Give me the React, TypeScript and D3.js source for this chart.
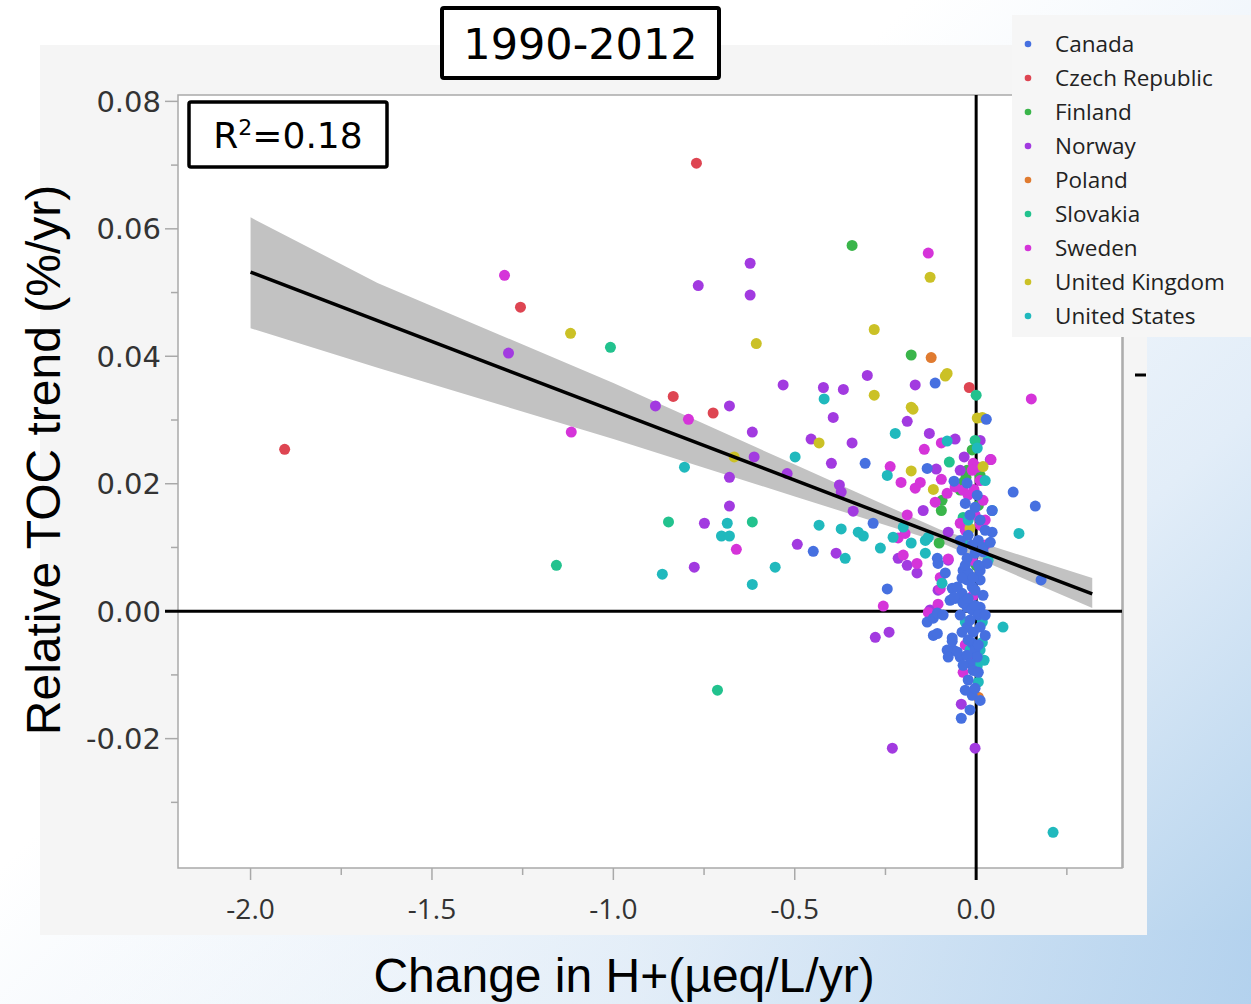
import React from 'react';
import * as d3 from 'd3';

const W = 1251;
const H = 1004;

// legend order
const countries = ['Canada', 'Czech Republic', 'Finland', 'Norway', 'Poland', 'Slovakia', 'Sweden', 'United Kingdom', 'United States'];
const countryColors = ['#4670e0', '#de4552', '#3ab54a', '#a23ae0', '#e07b30', '#22c28e', '#d534d9', '#cbc126', '#20b9bd'];

// [change in H+, relative TOC trend]
const canada = [
  [-0.113, 0.0358], [0.028, 0.0301], [-0.306, 0.0232], [-0.284, 0.0138], [-0.135, 0.0224], [-0.061, 0.0204],
  [-0.025, 0.0201], [0.003, 0.0182], [0.102, 0.0187], [0.163, 0.0165], [0.179, 0.0049], [-0.03, 0.0169],
  [-0.003, 0.0163], [0.044, 0.0158], [0.044, 0.0124], [-0.039, 0.0096], [-0.025, 0.0083], [-0.003, 0.0091],
  [0.019, 0.01], [0.039, 0.0108], [-0.107, 0.0083], [-0.105, 0.0075], [-0.085, 0.006], [-0.036, 0.0064],
  [-0.025, 0.0049], [-0.011, 0.0038], [0.011, 0.0049], [-0.066, 0.0036], [-0.058, 0.002], [-0.072, 0.0017],
  [-0.039, 0.0028], [-0.025, 0.0006], [-0.011, 0.0002], [0.011, 0.0006], [-0.135, -0.0017], [-0.118, -0.0011],
  [-0.107, -0.0003], [-0.025, -0.0025], [-0.008, -0.0033], [0.011, -0.0025], [-0.118, -0.0038], [-0.107, -0.0035],
  [-0.066, -0.0042], [-0.063, -0.0061], [-0.08, -0.0061], [-0.011, -0.005], [-0.003, -0.0061], [0.003, -0.0072],
  [-0.044, -0.0072], [-0.025, -0.0069], [-0.017, -0.0082], [-0.008, -0.0093], [-0.011, -0.0132], [-0.041, -0.0168],
  [-0.052, -0.0064], [-0.077, -0.0072], [-0.449, 0.0094], [-0.245, 0.0035], [-0.003, 0.0009], [-0.036, 0.0013],
  [-0.066, -0.0047], [-0.022, 0.006], [0.03, 0.0075], [0.019, 0.0093], [-0.052, 0.0038], [-0.061, 0.0022],
  [-0.091, -0.0006], [-0.008, 0.0053], [0.011, 0.0064],
  [-0.017, 0.0151], [0.011, 0.0143], [-0.022, 0.0119], [0.006, 0.0111], [0.025, 0.0127], [-0.044, 0.0111],
  [-0.011, 0.0104], [-0.03, 0.0072], [0.006, 0.0072], [-0.039, 0.0052], [-0.003, 0.0033], [0.019, 0.0025],
  [-0.022, 0.002], [0.006, -0.0006], [-0.044, -0.0006], [0.025, -0.0006], [-0.017, -0.0014], [-0.039, -0.0033],
  [0.025, -0.0038], [-0.022, -0.0045], [0.006, -0.0053], [-0.036, -0.0085], [0.006, -0.0096], [-0.022, -0.0108],
  [-0.003, -0.0121], [-0.03, -0.0124], [0.011, -0.014], [-0.017, -0.0155],
];
const czech = [
  [-1.906, 0.0254], [-0.771, 0.0703], [-1.256, 0.0477], [-0.835, 0.0337], [-0.725, 0.0311], [-0.019, 0.0351],
];
const finland = [
  [-0.342, 0.0574], [-0.179, 0.0402], [-0.028, 0.021], [-0.036, 0.0202], [-0.094, 0.0174], [-0.096, 0.0158],
  [-0.102, 0.0107], [0.0, 0.0072], [0.011, 0.0213], [-0.025, 0.0221], [-0.011, 0.0253], [0.006, 0.0166],
  [-0.044, 0.019],
];
const norway = [
  [-1.289, 0.0405], [-0.884, 0.0322], [-0.68, 0.0322], [-0.766, 0.0511], [-0.623, 0.0546], [-0.623, 0.0496],
  [-0.532, 0.0355], [-0.421, 0.0351], [-0.366, 0.0348], [-0.3, 0.037], [-0.394, 0.0304], [-0.617, 0.0281],
  [-0.455, 0.027], [-0.342, 0.0264], [-0.612, 0.0242], [-0.399, 0.0232], [-0.521, 0.0216], [-0.68, 0.021],
  [-0.377, 0.0198], [-0.372, 0.0187], [-0.339, 0.0157], [-0.68, 0.0165], [-0.749, 0.0138], [-0.493, 0.0105],
  [-0.386, 0.0091], [-0.777, 0.0069], [-0.168, 0.0355], [-0.19, 0.0298], [-0.129, 0.0279], [-0.058, 0.027],
  [-0.033, 0.0242], [-0.11, 0.0223], [-0.146, 0.0158], [-0.077, 0.0124], [-0.077, 0.008], [-0.215, 0.0083],
  [-0.19, 0.0072], [-0.163, 0.006], [-0.105, 0.0033], [-0.127, 0.0002], [-0.278, -0.0041], [-0.24, -0.0033],
  [-0.008, -0.0077], [-0.041, -0.0146], [-0.231, -0.0215], [-0.003, -0.0215], [0.039, 0.0238], [0.011, 0.0268],
  [-0.044, 0.0221],
];
const poland = [[-0.124, 0.0398], [0.006, -0.0135]];
const slovakia = [
  [-1.008, 0.0414], [-1.157, 0.0072], [-0.848, 0.014], [-0.617, 0.014], [-0.713, -0.0124], [0.0, 0.0339],
  [-0.003, 0.0268], [-0.074, 0.0234], [-0.036, 0.0147],
];
const sweden = [
  [-1.3, 0.0527], [-1.116, 0.0281], [-0.793, 0.0301], [-0.132, 0.0562], [0.152, 0.0333], [-0.661, 0.0097],
  [-0.143, 0.0254], [-0.096, 0.0264], [-0.237, 0.0227], [-0.207, 0.0202], [-0.168, 0.0193], [-0.154, 0.0202],
  [-0.096, 0.0207], [-0.058, 0.0195], [-0.036, 0.019], [-0.006, 0.0191], [-0.008, 0.0232], [0.003, 0.0226],
  [0.041, 0.0238], [-0.113, 0.0171], [-0.08, 0.0185], [-0.19, 0.0151], [-0.215, 0.0115], [-0.196, 0.0122],
  [-0.044, 0.0138], [0.011, 0.0135], [0.025, 0.0143], [-0.077, 0.0082], [-0.201, 0.0088], [-0.163, 0.0075],
  [-0.099, 0.0053], [-0.099, 0.0035], [-0.008, 0.0025], [-0.256, 0.0008], [-0.132, -0.0002], [-0.105, 0.0011],
  [-0.03, -0.0053], [-0.036, -0.0096], [-0.011, 0.0221], [0.011, 0.0205], [-0.022, 0.0182], [0.019, 0.0174],
  [-0.003, 0.0151], [-0.03, 0.0127], [0.025, 0.0104], [-0.011, 0.008],
];
const unitedKingdom = [
  [-1.118, 0.0436], [-0.606, 0.042], [-0.281, 0.0442], [-0.127, 0.0524], [-0.281, 0.0339], [-0.433, 0.0264],
  [-0.667, 0.0242], [-0.085, 0.0369], [-0.08, 0.0373], [-0.179, 0.032], [-0.174, 0.0317], [0.003, 0.0303],
  [0.017, 0.0304], [-0.179, 0.022], [-0.118, 0.0191], [0.019, 0.0227], [-0.017, 0.013],
];
const unitedStates = [
  [-0.419, 0.0333], [-0.499, 0.0242], [-0.804, 0.0226], [-0.686, 0.0138], [-0.702, 0.0118], [-0.68, 0.0118],
  [-0.433, 0.0135], [-0.372, 0.0129], [-0.325, 0.0124], [-0.311, 0.0118], [-0.361, 0.0083], [-0.865, 0.0058],
  [-0.617, 0.0042], [-0.554, 0.0069], [-0.223, 0.0279], [-0.08, 0.0267], [0.003, 0.0256], [-0.245, 0.0213],
  [-0.229, 0.0116], [-0.201, 0.0132], [-0.179, 0.0107], [-0.14, 0.0111], [-0.132, 0.0116], [-0.264, 0.0099],
  [-0.14, 0.0091], [-0.036, 0.0107], [0.118, 0.0122], [0.044, 0.0158], [-0.094, 0.0044], [-0.039, 0.0017],
  [-0.03, -0.0017], [0.017, -0.0017], [0.074, -0.0025], [0.017, -0.0049], [0.011, -0.0061], [0.003, -0.0086],
  [0.006, -0.0111], [0.212, -0.0347], [0.025, 0.0205], [-0.022, 0.0143], [0.033, 0.008], [-0.017, -0.0061],
  [0.022, -0.0077],
];

const seriesPoints = [canada, czech, finland, norway, poland, slovakia, sweden, unitedKingdom, unitedStates];
// Canada painted last so the blue column sits on top, as in the picture
const drawOrder = [1, 2, 3, 4, 5, 6, 7, 8, 0];

// fitted line and its confidence band
const fitX = [-2.0, 0.32];
const fitY = [0.0532, 0.0027];
const bandX = [-2.0, -1.65, -1.0, -0.5, -0.1, 0.32];
const bandHi = [0.0618, 0.0515, 0.0358, 0.023, 0.0128, 0.0052];
const bandLo = [0.0444, 0.0382, 0.027, 0.018, 0.0108, 0.0005];

const yTicks = [-0.02, 0.0, 0.02, 0.04, 0.06, 0.08];
const yMinor = [-0.03, -0.01, 0.01, 0.03, 0.05, 0.07];
const xTicks = [-2.0, -1.5, -1.0, -0.5, 0.0];
const xMinor = [-1.75, -1.25, -0.75, -0.25, 0.25];

export default function App() {
  const left = 178, right = 1122, top = 95, bottom = 868;
  const x = d3.scaleLinear().domain([-2.2, 0.402]).range([left, right]);
  const y = d3.scaleLinear().domain([-0.0403, 0.081]).range([bottom, top]);

  const band = d3.area<number>()
    .x((d) => x(d))
    .y0((d, i) => y(bandLo[i]))
    .y1((d, i) => y(bandHi[i]));
  const fit = d3.line<number>()
    .x((d) => x(d))
    .y((d, i) => y(fitY[i]));

  const labelFont = 'DejaVu Sans, Verdana, sans-serif';
  const uiFont = '"Open Sans", "Noto Sans", sans-serif';
  const titleFont = '"Liberation Sans", Arial, sans-serif';

  return (
    <svg width={W} height={H} style={{ position: 'absolute', left: 0, top: 0, display: 'block' }}>
      <defs>
        <linearGradient id="bg" x1="0.35" y1="0.45" x2="1" y2="1">
          <stop offset="0" stopColor="#ffffff" />
          <stop offset="0.55" stopColor="#e2edf8" />
          <stop offset="1" stopColor="#b0d0ec" />
        </linearGradient>
        <linearGradient id="swoosh" x1="0" y1="0" x2="1" y2="0">
          <stop offset="0" stopColor="#ffffff" stopOpacity="0" />
          <stop offset="0.5" stopColor="#e4eef8" stopOpacity="0.7" />
          <stop offset="1" stopColor="#b4d2ee" stopOpacity="0.8" />
        </linearGradient>
      </defs>
      <rect x={0} y={0} width={W} height={H} fill="url(#bg)" />
      <rect x={0} y={930} width={W} height={74} fill="url(#swoosh)" />

      {/* grey report panel */}
      <rect x={40} y={45} width={1107} height={890} fill="#f5f5f5" />
      <rect x={left} y={top} width={right - left} height={bottom - top} fill="#ffffff" stroke="#a9a9a9" strokeWidth={1.5} />

      {/* y axis ticks */}
      {yTicks.map((t) => (
        <g key={'yt' + t}>
          <line x1={left - 13} x2={left} y1={y(t)} y2={y(t)} stroke="#a9a9a9" strokeWidth={1.5} />
          <text x={left - 17} y={y(t)} dy="0.36em" textAnchor="end" fontFamily={labelFont} fontSize={29} fill="#333">
            {t.toFixed(2)}
          </text>
        </g>
      ))}
      {yMinor.map((t) => (
        <line key={'ym' + t} x1={left - 7} x2={left} y1={y(t)} y2={y(t)} stroke="#a9a9a9" strokeWidth={1.5} />
      ))}

      {/* x axis ticks */}
      {xTicks.map((t) => (
        <g key={'xt' + t}>
          <line x1={x(t)} x2={x(t)} y1={bottom} y2={bottom + 12} stroke="#a9a9a9" strokeWidth={1.5} />
          <text x={x(t)} y={bottom + 51} textAnchor="middle" fontFamily={uiFont} fontSize={28} fill="#333">
            {t.toFixed(1)}
          </text>
        </g>
      ))}
      {xMinor.map((t) => (
        <line key={'xm' + t} x1={x(t)} x2={x(t)} y1={bottom} y2={bottom + 7} stroke="#a9a9a9" strokeWidth={1.5} />
      ))}

      {/* confidence band */}
      <path d={band(bandX) || ''} fill="#c2c2c2" />

      {/* reference lines at zero */}
      <line x1={left - 13} x2={right} y1={y(0)} y2={y(0)} stroke="#000" strokeWidth={3} />
      <line x1={x(0)} x2={x(0)} y1={top} y2={bottom + 12} stroke="#000" strokeWidth={3} />

      {drawOrder.map((si) => (
        <g key={countries[si]} fill={countryColors[si]}>
          {seriesPoints[si].map((p, i) => (
            <circle key={i} cx={x(p[0])} cy={y(p[1])} r={5.5} />
          ))}
        </g>
      ))}

      <path d={fit(fitX) || ''} fill="none" stroke="#000" strokeWidth={3.5} />

      {/* R² box */}
      <rect x={189} y={102} width={198} height={65} fill="#fff" stroke="#000" strokeWidth={3.5} rx={2} />
      <text x={288} y={148} textAnchor="middle" fontFamily={labelFont} fontSize={36} fill="#000">
        R<tspan fontSize={22} dy={-13}>2</tspan><tspan dy={13}>=0.18</tspan>
      </text>

      {/* period title */}
      <rect x={442} y={8} width={277} height={70} fill="#fff" stroke="#000" strokeWidth={4} rx={2} />
      <text x={580.5} y={59} textAnchor="middle" fontFamily={labelFont} fontSize={43} fill="#000">1990-2012</text>

      {/* legend */}
      <rect x={1012} y={15} width={239} height={322} fill="#f6f6f6" />
      {countries.map((c, i) => (
        <g key={c}>
          <circle cx={1028} cy={44 + i * 34} r={3.3} fill={countryColors[i]} />
          <text x={1055} y={44 + i * 34} dy="0.36em" fontFamily={uiFont} fontSize={22.5} fill="#222">{c}</text>
        </g>
      ))}
      <line x1={1123} x2={1123} y1={337} y2={bottom} stroke="#a9a9a9" strokeWidth={1.5} />
      <line x1={1135} x2={1146} y1={375} y2={375} stroke="#000" strokeWidth={3} />

      {/* axis titles */}
      <text transform="translate(60,460) rotate(-90)" textAnchor="middle" fontFamily={titleFont} fontSize={48} fill="#000">
        Relative TOC trend (%/yr)
      </text>
      <text x={624} y={992} textAnchor="middle" fontFamily={titleFont} fontSize={48} fill="#000">
        Change in H+(µeq/L/yr)
      </text>
    </svg>
  );
}
